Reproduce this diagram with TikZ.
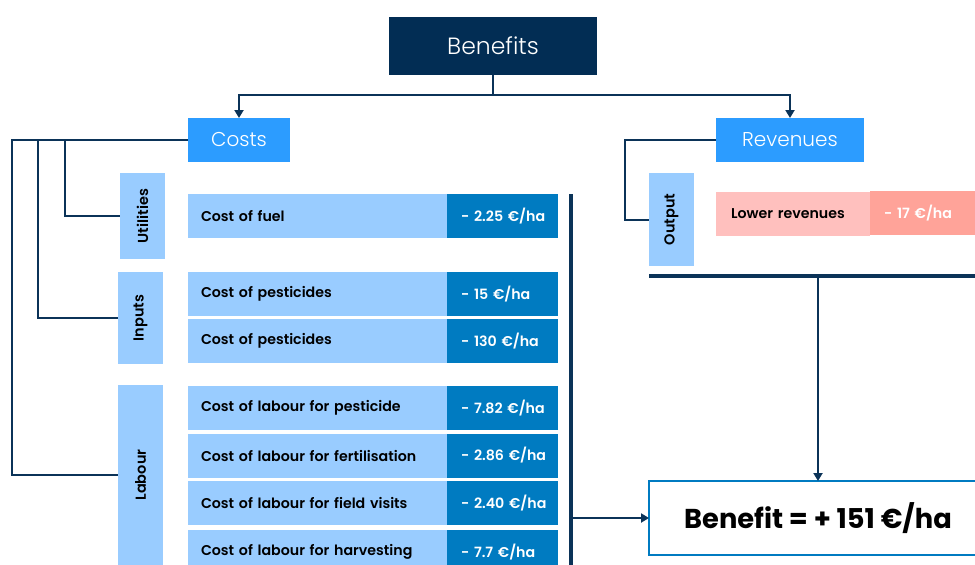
\documentclass[tikz,border=0pt]{standalone}
\usepackage{fontspec}
\setmainfont{Poppins}
\newfontfamily\poplight{Poppins Light}
\newfontfamily\popsemi{Poppins SemiBold}
\usetikzlibrary{arrows.meta,calc}
\definecolor{navy}{HTML}{022D54}
\definecolor{linec}{HTML}{0B3358}
\definecolor{midblue}{HTML}{2C9CFF}
\definecolor{lblue}{HTML}{99CCFF}
\definecolor{vblue}{HTML}{007BC1}
\definecolor{pink}{HTML}{FFC0BE}
\definecolor{salmon}{HTML}{FFA399}
\tikzset{
  box/.style={rectangle, inner sep=0pt, outer sep=0pt, anchor=north west},
  lbl/.style={box, fill=lblue, minimum height=44pt, inner xsep=13pt, text width=233pt, align=left,
    font=\popsemi\fontsize{14.2}{16}\selectfont},
  val/.style={box, fill=vblue, text=white, minimum height=44pt, inner xsep=14pt, text width=83pt, align=left,
    font=\popsemi\fontsize{14.2}{16}\selectfont},
  cat/.style={rectangle, fill=lblue, inner sep=0pt, outer sep=0pt, rotate=90, minimum height=45pt,
    font=\popsemi\fontsize{14.5}{16}\selectfont},
  head/.style={box, fill=midblue, text=white, minimum height=44pt, font=\poplight\fontsize{20}{23}\selectfont},
  conn/.style={draw=linec, line width=2pt},
  top conn/.style={draw=linec, line width=2.8pt},
  thick conn/.style={draw=linec, line width=3.2pt},
  tip/.style={-{Triangle[length=8pt,width=9pt]}},
}
\begin{document}
\begin{tikzpicture}[x=1pt,y=-1pt]
\useasboundingbox (0,0) rectangle (975,565);

% header nodes
\node[box, fill=navy, text=white, minimum width=208pt, minimum height=58pt,
  font=\poplight\fontsize{23.5}{27}\selectfont] (ben) at (389,17) {Benefits};
\node[head, minimum width=102pt] (costs) at (188,118) {Costs};
\node[head, minimum width=148pt] (rev) at (716,118) {Revenues};

% category nodes
\node[cat, minimum width=86pt] (util) at (142.5,216) {Utilities};
\node[cat, minimum width=92pt] (inputs) at (140.5,318) {Inputs};
\node[cat, minimum width=180pt] (labour) at (140.5,475) {Labour};
\node[cat, minimum width=93pt] (output) at (671.5,219.5) {Output};

% rows
\node[lbl] (r1) at (188,194) {Cost of fuel};
\node[val] (v1) at (447,194) {\mbox{- 2.25 €/ha}};
\node[lbl] (r2) at (188,272) {Cost of pesticides};
\node[val] (v2) at (447,272) {\mbox{- 15 €/ha}};
\node[lbl] (r3) at (188,319) {Cost of pesticides};
\node[val] (v3) at (447,319) {\mbox{- 130 €/ha}};
\node[lbl] (r4) at (188,386) {Cost of labour for pesticide};
\node[val] (v4) at (447,386) {\mbox{- 7.82 €/ha}};
\node[lbl] (r5) at (188,433.5) {Cost of labour for fertilisation};
\node[val] (v5) at (447,433.5) {\mbox{- 2.86 €/ha}};
\node[lbl] (r6) at (188,481) {Cost of labour for field visits};
\node[val] (v6) at (447,481) {\mbox{- 2.40 €/ha}};
\node[lbl] (r7) at (188,530) {Cost of labour for harvesting};
\node[val] (v7) at (447,530) {\mbox{- 7.7 €/ha}};

\node[lbl, fill=pink, inner xsep=15pt, text width=124pt] (lr) at (716,192) {Lower revenues};
\node[val, fill=salmon, text width=90pt] (lrv) at (870,191) {\mbox{- 17 €/ha}};

% result
\node[box, draw=vblue, line width=2.8pt, fill=white, minimum width=338pt, minimum height=74pt,
  font=\bfseries\fontsize{27.3}{31}\selectfont] (res) at (649,481) {Benefit = + 151 €/ha};

% connectors from Benefits
\draw[top conn, tip] (ben.south) -- ++(0,20) -| (costs.north);
\draw[top conn, tip] (ben.south) ++(0,20) -| (rev.north);

% cost tree
\coordinate (c1) at (65,140);
\coordinate (c2) at (38,140);
\coordinate (c3) at (12,140);
\draw[conn] (costs.west) -- (c3) |- (labour.north);
\draw[conn] (c1) |- (util.north);
\draw[conn] (c2) |- (inputs.north);

% revenue tree
\coordinate (rt) at (625,140);
\draw[conn] (rev.west) -- (rt) |- (output.north);

% summary bars
\coordinate (bt) at (571,194);
\coordinate (bb) at (571,565);
\draw[thick conn] (bt) -- (bb);
\coordinate (bj) at (571,518);
\draw[top conn, tip] (bj) -- (bj -| res.west);

\coordinate (hl) at (649,276);
\coordinate (hr) at (975,276);
\draw[thick conn] (hl) -- (hr);
\coordinate (hj) at (818,276);
\draw[top conn, tip] (hj) -- (hj |- res.north);
\end{tikzpicture}
\end{document}
